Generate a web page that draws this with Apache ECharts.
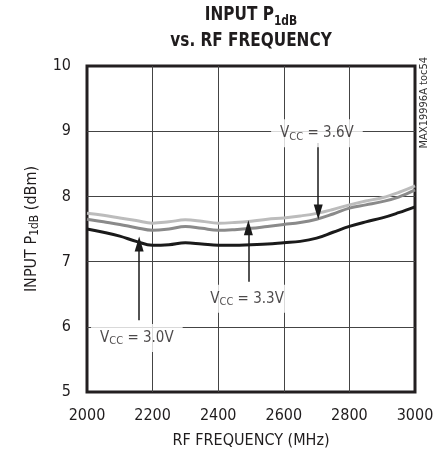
<!DOCTYPE html>
<html><head><meta charset="utf-8">
<script src="https://cdn.jsdelivr.net/npm/echarts@6/dist/echarts.min.js"></script>
<style>html,body{margin:0;padding:0;background:#fff}#c{width:443px;height:454px}</style>
</head><body><div id="c"></div>
<script>
const freqs = [2000,2050,2100,2150,2200,2250,2300,2350,2400,2450,2500,2550,2600,2650,2700,2750,2800,2850,2900,2950,3000];
const vcc30 = [7.50,7.45,7.39,7.31,7.25,7.26,7.29,7.27,7.25,7.25,7.26,7.27,7.29,7.31,7.36,7.45,7.54,7.61,7.67,7.75,7.84];
const vcc33 = [7.65,7.61,7.57,7.52,7.48,7.50,7.54,7.51,7.48,7.49,7.51,7.54,7.57,7.60,7.65,7.73,7.82,7.87,7.92,7.99,8.10];
const vcc36 = [7.74,7.71,7.67,7.63,7.59,7.61,7.64,7.62,7.59,7.60,7.62,7.65,7.67,7.70,7.74,7.80,7.87,7.93,7.98,8.06,8.16];
const xTickLabels = ['2000','2200','2400','2600','2800','3000'];
const yTickLabels = ['5','6','7','8','9','10'];
const labelNames = ['3.6V','3.3V','3.0V'];
const labelX = [2701,2488,2152];
const labelY = [8.97,6.43,5.83];
const arrowX = [2705,2492,2159];
const arrowFrom = [8.82,6.69,6.10];
const arrowTo = [7.76,7.52,7.27];

const FONT = '"DejaVu Sans Condensed","Liberation Sans",sans-serif';
const TXT = '#1f1c1d';
const chart = echarts.init(document.getElementById('c'), null, {renderer:'canvas'});
const pair = a => freqs.map((f,i)=>[f,a[i]]);

chart.setOption({
  animation:false,
  backgroundColor:'#fff',
  graphic:[
    {type:'text',x:251,y:2,scaleX:0.85,
      style:{text:'{a|INPUT P}{b|1dB}\n{a|vs. RF FREQUENCY}',align:'center',verticalAlign:'top',
        rich:{
          a:{fontFamily:FONT,fontSize:20,fontWeight:'bold',fill:TXT,lineHeight:26},
          b:{fontFamily:FONT,fontSize:14,fontWeight:'bold',fill:TXT,lineHeight:10,verticalAlign:'bottom'}
        }}},
    {type:'text',left:419,top:57,rotation:Math.PI/2,
      style:{text:'MAX19996A toc54',fontFamily:FONT,fontSize:11,fill:'#333'}}
  ],
  grid:{left:87,right:28,top:66,bottom:60,show:true,borderColor:'#231f20',borderWidth:3,backgroundColor:'transparent'},
  xAxis:{type:'value',min:2000,max:3000,interval:200,
    axisLine:{show:false},axisTick:{show:false},
    axisLabel:{margin:16,fontFamily:FONT,fontSize:16,color:TXT,formatter:(v)=>xTickLabels[(v-2000)/200]},
    splitLine:{show:true,showMinLine:false,showMaxLine:false,lineStyle:{color:'#444',width:1}},
    name:'RF FREQUENCY (MHz)',nameLocation:'middle',nameGap:41,
    nameTextStyle:{fontFamily:FONT,fontSize:16,color:TXT}
  },
  yAxis:{type:'value',min:5,max:10,interval:1,
    axisLine:{show:false},axisTick:{show:false},
    axisLabel:{margin:16,fontFamily:FONT,fontSize:16,color:TXT,formatter:(v)=>yTickLabels[v-5]},
    splitLine:{show:true,showMinLine:false,showMaxLine:false,lineStyle:{color:'#444',width:1}},
    name:'{a|INPUT P}{b|1dB}{a| (dBm)}',nameLocation:'middle',nameGap:46,nameRotate:90,
    nameTextStyle:{rich:{
      a:{fontFamily:FONT,fontSize:16,color:TXT,lineHeight:18},
      b:{fontFamily:FONT,fontSize:12,color:TXT,lineHeight:12,verticalAlign:'bottom'}
    }}
  },
  series:[
    {name:'VCC = 3.6V',type:'line',data:pair(vcc36),smooth:0.4,showSymbol:false,lineStyle:{color:'#bcbcbc',width:3},z:3},
    {name:'VCC = 3.3V',type:'line',data:pair(vcc33),smooth:0.4,showSymbol:false,lineStyle:{color:'#8a8a8a',width:3},z:4},
    {name:'VCC = 3.0V',type:'line',data:pair(vcc30),smooth:0.4,showSymbol:false,lineStyle:{color:'#1a1a1a',width:3},z:5},
    {name:'labels',type:'scatter',symbolSize:0,z:10,
      data:labelNames.map((n,i)=>({value:[labelX[i],labelY[i]],name:n})),
      label:{show:true,position:'inside',backgroundColor:'#fff',padding:[5,9],
        formatter:(p)=>'{v|V}{s|CC}{v| = '+p.name+'}',
        rich:{
          v:{fontFamily:FONT,fontSize:15,color:TXT,lineHeight:18},
          s:{fontFamily:FONT,fontSize:11,color:TXT,lineHeight:11,verticalAlign:'bottom'}
        }},
      markLine:{silent:true,symbol:['none','triangle'],symbolSize:14,
        itemStyle:{color:'#1a1a1a'},
        lineStyle:{color:'#1a1a1a',width:1.5,type:'solid'},label:{show:false},
        data:arrowX.map((x,i)=>[
          {coord:[x,arrowFrom[i]],symbol:'none'},
          {coord:[x,arrowTo[i]],symbol:'triangle',symbolSize:[9,15]}
        ])
      }
    }
  ]
});
</script></body></html>
